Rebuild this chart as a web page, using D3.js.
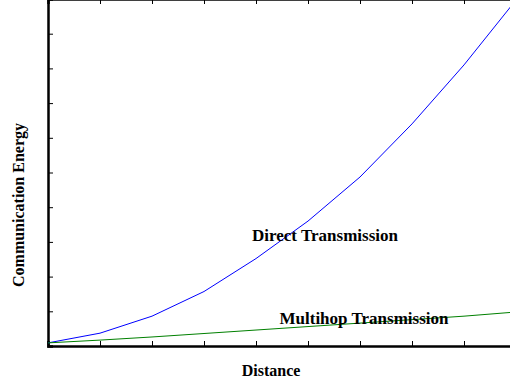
<!DOCTYPE html>
<html>
<head>
<meta charset="utf-8">
<script src="https://cdn.jsdelivr.net/npm/d3@7"></script>
<style>
  body { margin: 0; background: #fff; }
  text { font-family: "Liberation Serif", "Times New Roman", serif; font-weight: bold; }
</style>
</head>
<body>
<svg id="chart"></svg>
<script>
var width = 510;
var height = 385;

// distance steps (tick positions) and energy
var distance = [0, 1, 2, 3, 4, 5, 6, 7, 8, 9];
var direct   = [0.09, 0.37, 0.86, 1.57, 2.52, 3.6, 4.87, 6.4, 8.1, 9.97];
var multihop = [0.09, 0.17, 0.26, 0.36, 0.46, 0.56, 0.66, 0.76, 0.86, 0.98];

var xTicks = d3.range(0, 10);
var yTicks = d3.range(0, 11);

var svg = d3.select("#chart")
  .attr("width", width)
  .attr("height", height);

var x = d3.scaleLinear().domain([0, 9]).range([48, 516]);
var y = d3.scaleLinear().domain([0, 10]).range([346, -1]);

// bottom axis, ticks pointing inward
svg.append("g")
  .attr("transform", "translate(0,346)")
  .call(d3.axisBottom(x).tickValues(xTicks).tickSize(-5).tickFormat(""))
  .call(g => g.select(".domain").attr("stroke-width", 2.5))
  .call(g => g.selectAll(".tick line").attr("stroke-width", 1));

// top axis
svg.append("g")
  .attr("transform", "translate(0,-1)")
  .call(d3.axisTop(x).tickValues(xTicks).tickSize(-5).tickFormat(""))
  .call(g => g.select(".domain").attr("stroke-width", 2.5));

// left axis
svg.append("g")
  .attr("transform", "translate(48,0)")
  .call(d3.axisLeft(y).tickValues(yTicks).tickSize(-5).tickFormat(""))
  .call(g => g.select(".domain").attr("stroke-width", 2.5));

var line = d3.line()
  .x((d, i) => x(distance[i]))
  .y(d => y(d));

svg.append("path")
  .datum(direct)
  .attr("fill", "none")
  .attr("stroke", "#0000ff")
  .attr("stroke-width", 1)
  .attr("d", line);

svg.append("path")
  .datum(multihop)
  .attr("fill", "none")
  .attr("stroke", "#008000")
  .attr("stroke-width", 1)
  .attr("d", line);

svg.append("text")
  .attr("x", 325).attr("y", 241)
  .attr("text-anchor", "middle")
  .style("font-size", "17px")
  .text("Direct Transmission");

svg.append("text")
  .attr("x", 364).attr("y", 324)
  .attr("text-anchor", "middle")
  .style("font-size", "17px")
  .text("Multihop Transmission");

svg.append("text")
  .attr("x", 271).attr("y", 376)
  .attr("text-anchor", "middle")
  .style("font-size", "16px")
  .text("Distance");

svg.append("text")
  .attr("transform", "translate(24,205)rotate(-90)")
  .attr("text-anchor", "middle")
  .style("font-size", "16px")
  .text("Communication Energy");
</script>
</body>
</html>
